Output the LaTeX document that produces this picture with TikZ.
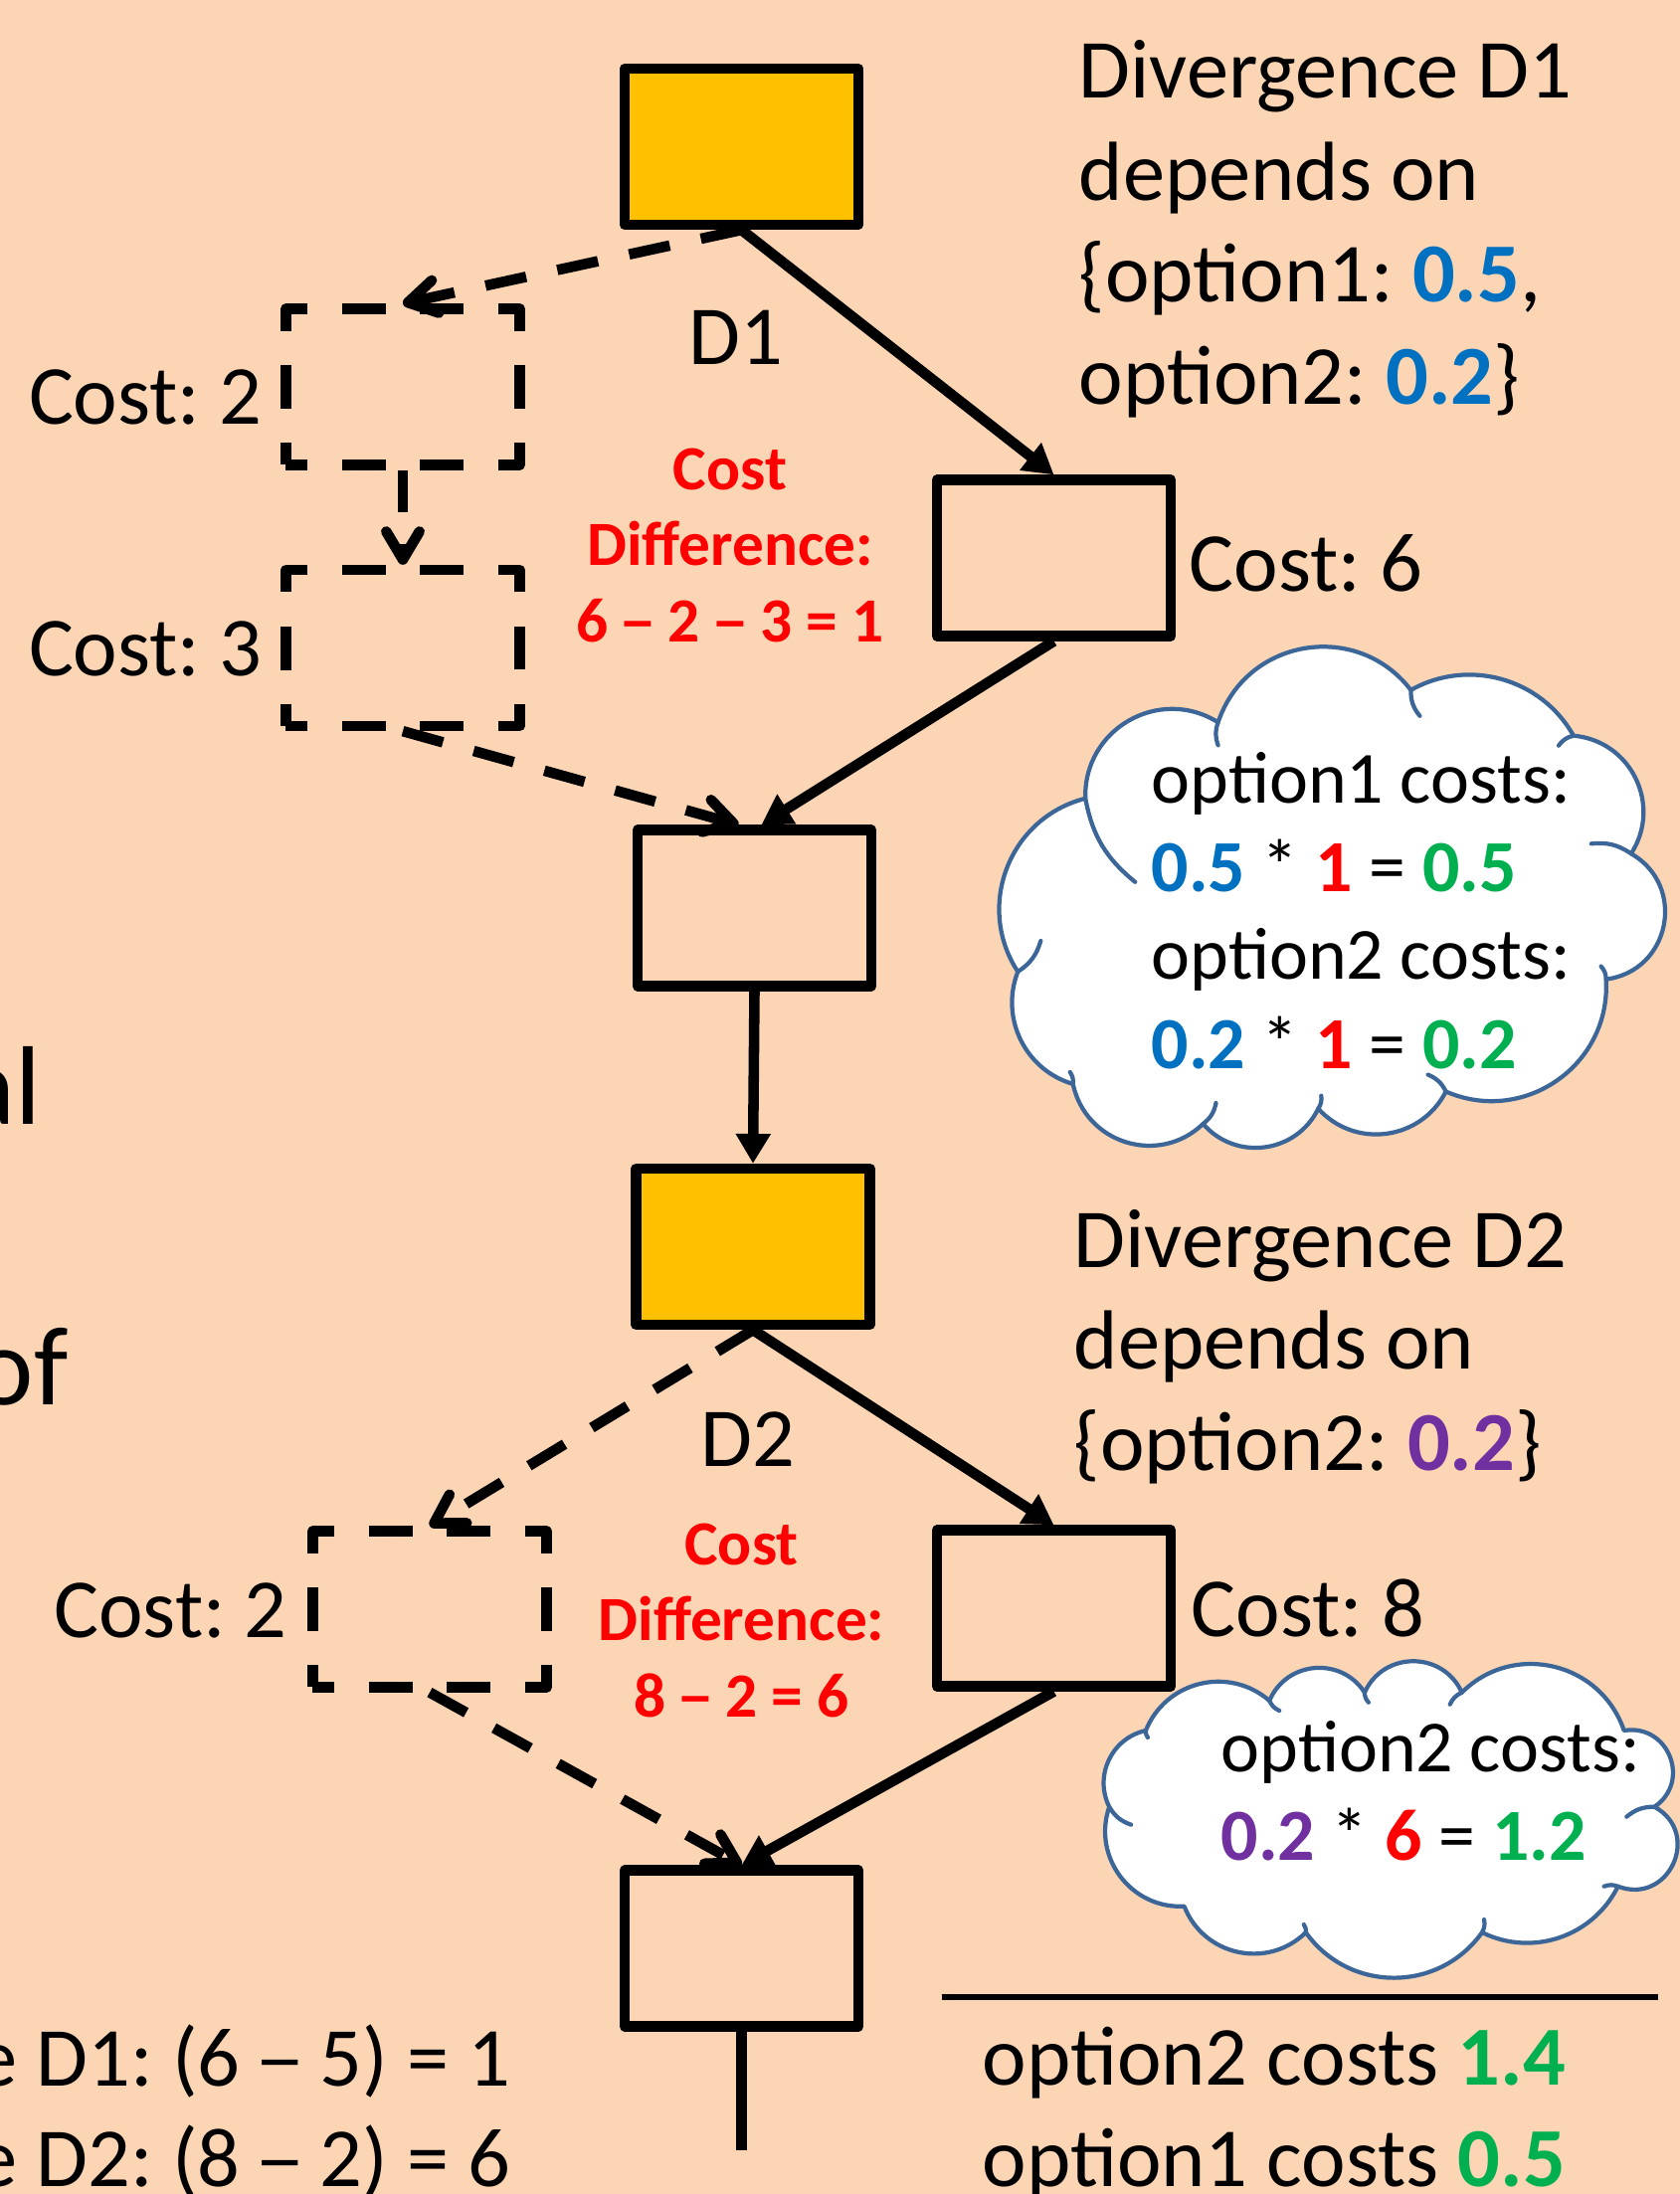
\documentclass[tikz,border=0pt]{standalone}
\usepackage{fontspec}
\setmainfont{Carlito}
\usetikzlibrary{arrows.meta,calc}

\definecolor{peach}{HTML}{FCD5B5}
\definecolor{divgold}{HTML}{FFC000}
\definecolor{optblue}{HTML}{0070C0}
\definecolor{optgreen}{HTML}{00B050}
\definecolor{optpurple}{HTML}{7030A0}
\definecolor{diffred}{HTML}{FF0000}
\definecolor{cloudedge}{HTML}{3C6698}

\newcommand{\cval}[2]{{\bfseries\color{#1}#2}}
% slightly wider dash, as the slide font draws it
\newcommand{\ndash}{\makebox[0.5em]{\scalebox{1.2}[1]{–}}}
\frenchspacing

\begin{document}
\begin{tikzpicture}[x=0.01cm, y=-0.01cm,
        block/.style = {draw, line width=3pt, line join=round, inner sep=0pt, minimum width=2.35cm, minimum height=1.5667cm},
        divblock/.style = {block, fill=divgold},
        skipblock/.style = {block, dash pattern=on 12.5pt off 9.79pt, dash phase=6.25pt},
        flow/.style = {line width=3pt, -{Triangle[length=8.5pt,width=9.5pt]}},
        skipflow/.style = {line width=3pt, dash pattern=on 11.9pt off 9.1pt, -{Straight Barb[length=8pt,width=9.5pt,round]}},
        txt/.style = {inner sep=0pt, font=\fontsize{24}{29}\selectfont},
        diff/.style = {inner sep=0pt, anchor=base, text=diffred, font=\fontsize{18}{22}\selectfont\bfseries},
        cloudtxt/.style = {inner sep=0pt, anchor=base west, font=\fontsize{21}{25}\selectfont},
        cloudline/.style = {draw=cloudedge, line width=1.2pt, line join=round, line cap=round}]
    \useasboundingbox (0,0) rectangle (1689,2206);
    \fill[peach] (0,0) rectangle (1689,2206);
    \clip (0,0) rectangle (1689,2206);

    % text running in from the left edge
    \node[txt, anchor=base west, font=\fontsize{32}{38}\selectfont] (sideA) at (-39,1130) {al};
    \node[txt, anchor=base west, font=\fontsize{32}{38}\selectfont] (sideB) at (-26,1412) {of};
    \node[txt, anchor=base west] (sideC) at (-25,2097) {e D1: (6 \ndash{} 5) = 1};
    \node[txt, anchor=base west] (sideD) at (-25,2198) {e D2: (8 \ndash{} 2) = 6};

    % cloud beside the first merge
    \path (1091.2,802.8) coordinate (ca1) (1224.6,726.3) coordinate (ca2)
          (1418.4,693.8) coordinate (ca3) (1581.9,739.7) coordinate (ca4)
          (1639.8,858.3) coordinate (ca5) (1614.6,984.6) coordinate (ca6)
          (1453.6,1097.5) coordinate (ca7) (1325.3,1114.7) coordinate (ca8)
          (1209.5,1130) coordinate (ca9) (1078.7,1089.9) coordinate (ca10)
          (1023.3,977) coordinate (ca11);
    \draw[cloudline, fill=white] (ca1)
        \foreach \a/\b/\t [evaluate=\t as \f using {2/3*tan(\t/4)/sin(\t/2)}, evaluate=\t as \h using {\t/2}]
            in {1/2/124, 2/3/124, 3/4/90, 4/5/118, 5/6/143, 6/7/117, 7/8/111, 8/9/113, 9/10/122, 10/11/95, 11/1/109}
        { .. controls ($(ca\a)!\f!\h:(ca\b)$) and ($(ca\b)!\f!-\h:(ca\a)$) .. (ca\b) } -- cycle;
    \foreach \c/\dx/\dy in {1/50/84, 2/0/23, 3/9/26, 4/-15/10, 5/-40/-10, 6/-5/-13, 7/-18/-17, 8/3/-13, 9/13/-21, 10/-3/-12, 11/23/-31}
        \draw[cloudline] (ca\c) to[bend right=20] ++(\dx,\dy);

    % cloud beside the second merge
    \path (1151.9,1740) coordinate (cb1) (1276.2,1710) coordinate (cb2)
          (1371.9,1701.7) coordinate (cb3) (1469.7,1701.7) coordinate (cb4)
          (1632.7,1740) coordinate (cb5) (1663.3,1816.7) coordinate (cb6)
          (1626.6,1896.7) coordinate (cb7) (1490,1943) coordinate (cb8)
          (1312.8,1943) coordinate (cb9) (1190.6,1916.7) coordinate (cb10)
          (1115.2,1816.7) coordinate (cb11);
    \draw[cloudline, fill=white] (cb1)
        \foreach \a/\b/\t [evaluate=\t as \f using {2/3*tan(\t/4)/sin(\t/2)}, evaluate=\t as \h using {\t/2}]
            in {1/2/109, 2/3/124, 3/4/131, 4/5/116, 5/6/155, 6/7/172, 7/8/90, 8/9/109, 9/10/113, 10/11/112, 11/1/104}
        { .. controls ($(cb\a)!\f!\h:(cb\b)$) and ($(cb\b)!\f!-\h:(cb\a)$) .. (cb\b) } -- cycle;
    \foreach \c/\dx/\dy in {1/2/7, 2/10/10, 3/4/10, 4/-12/12, 6/-28/10, 7/-14/0, 8/2/-13, 9/-2/-8, 11/22/18}
        \draw[cloudline] (cb\c) to[bend right=20] ++(\dx,\dy);

    % blocks
    \node[divblock] (d1box) at (745.5,147.5) {};
    \node[skipblock] (skipA) at (405,389) {};
    \node[skipblock] (skipB) at (405,651.5) {};
    \node[block] (costA) at (1059.5,561) {};
    \node[block] (mergeA) at (758.5,913) {};
    \node[divblock] (d2box) at (757,1253.5) {};
    \node[skipblock] (skipC) at (432,1618) {};
    \node[block] (costB) at (1059.5,1617) {};
    \node[block] (mergeB) at (745.5,1959) {};
    \coordinate (tail) at (745.5,2162);

    % edges
    \draw[flow] (d1box.south) -- (costA.north);
    \draw[skipflow] (d1box.south) -- (skipA.north);
    \draw[skipflow] (skipA.south) -- (skipB.north);
    \draw[skipflow] (skipB.south) -- ([xshift=-0.16cm]mergeA.north);
    \draw[flow] (costA.south) -- ([xshift=0.07cm]mergeA.north);
    \draw[flow] (mergeA.south) -- (d2box.north);
    \draw[skipflow] (d2box.south) -- (skipC.north);
    \draw[flow] (d2box.south) -- (costB.north);
    \draw[skipflow] (skipC.south) -- (mergeB.north);
    \draw[flow] (costB.south) -- (mergeB.north);
    \draw[line width=3pt] (mergeB.south) -- (tail);

    % labels, first divergence
    \node[txt, anchor=base east] (lblSkipA) at (264,426) {Cost: 2};
    \node[txt, anchor=base east] (lblSkipB) at (264,679) {Cost: 3};
    \node[txt, anchor=base] (lblD1) at (739.5,366) {D1};
    \node[diff] (diffA1) at (734,492) {Cost};
    \node[diff] (diffA2) at (734,568) {Difference:};
    \node[diff] (diffA3) at (734,645) {6 \ndash{} 2 \ndash{} 3 = 1};
    \node[txt, anchor=base west] (lblCostA) at (1195,594) {Cost: 6};
    \node[txt, anchor=base west] (divA1) at (1084,99) {Divergence D1};
    \node[txt, anchor=base west] (divA2) at (1084,201.7) {depends on};
    \node[txt, anchor=base west] (divA3) at (1084,304) {\{option1: \cval{optblue}{0.5},};
    \node[txt, anchor=base west] (divA4) at (1084,406) {option2: \cval{optblue}{0.2}\}};
    \node[cloudtxt] (cloudA1) at (1157,807.4) {option1 costs:};
    \node[cloudtxt] (cloudA2) at (1157,896.6) {\cval{optblue}{0.5} * \cval{diffred}{1} = \cval{optgreen}{0.5}};
    \node[cloudtxt] (cloudA3) at (1157,984.6) {option2 costs:};
    \node[cloudtxt] (cloudA4) at (1157,1074.5) {\cval{optblue}{0.2} * \cval{diffred}{1} = \cval{optgreen}{0.2}};

    % labels, second divergence
    \node[txt, anchor=base west] (divB1) at (1079,1274) {Divergence D2};
    \node[txt, anchor=base west] (divB2) at (1079,1376.4) {depends on};
    \node[txt, anchor=base west] (divB3) at (1079,1478) {\{option2: \cval{optpurple}{0.2}\}};
    \node[txt, anchor=base] (lblD2) at (751.7,1474.5) {D2};
    \node[diff] (diffB1) at (745.5,1573) {Cost};
    \node[diff] (diffB2) at (745.5,1649.4) {Difference:};
    \node[diff] (diffB3) at (745.5,1726) {8 \ndash{} 2 = 6};
    \node[txt, anchor=base east] (lblSkipC) at (289.5,1646.7) {Cost: 2};
    \node[txt, anchor=base west] (lblCostB) at (1197,1645.8) {Cost: 8};
    \node[cloudtxt] (cloudB1) at (1227,1781.7) {option2 costs:};
    \node[cloudtxt] (cloudB2) at (1227,1870.7) {\cval{optpurple}{0.2} * \cval{diffred}{6} = \cval{optgreen}{1.2}};

    % totals
    \coordinate (ruleL) at (946.7,2007.8);
    \coordinate (ruleR) at (1666.5,2007.8);
    \draw[line width=1.7pt] (ruleL) -- (ruleR);
    \node[txt, anchor=base west] (sumA) at (987,2096.7) {option2 costs \cval{optgreen}{1.4}};
    \node[txt, anchor=base west] (sumB) at (987,2198.3) {option1 costs \cval{optgreen}{0.5}};
\end{tikzpicture}
\end{document}
